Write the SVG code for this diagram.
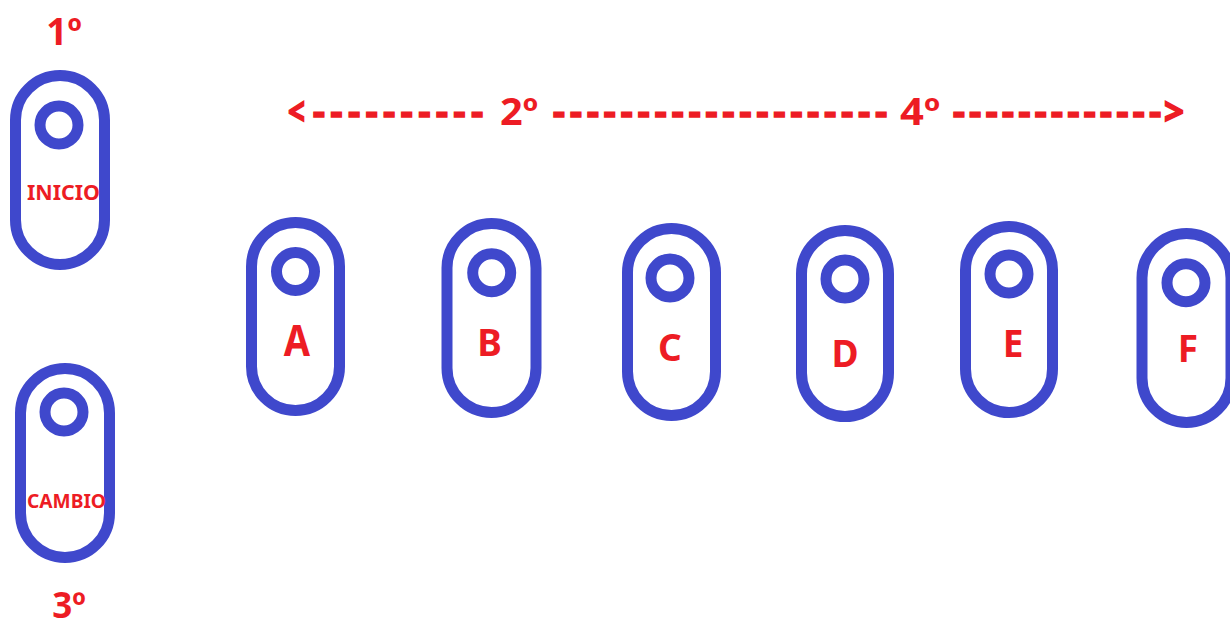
<svg xmlns="http://www.w3.org/2000/svg" width="1230" height="621" viewBox="0 0 1230 621">
<style>
.pill{fill:none;stroke:#3f48cc;stroke-width:11}
.hole{fill:none;stroke:#3f48cc;stroke-width:11}
.t{fill:#ed1c24;font-family:"Noto Sans","Open Sans","Liberation Sans",sans-serif;font-weight:bold;text-anchor:middle}
.h{fill:#ed1c24;font-family:"Noto Sans","Open Sans","Liberation Sans",sans-serif;font-weight:bold;font-size:37px}
.d{stroke:#ed1c24;stroke-width:1.6}
</style>
<rect width="1230" height="621" fill="#ffffff"/>
<g id="connectors">
<text class="h d" x="288" y="125" textLength="17" lengthAdjust="spacingAndGlyphs">&lt;</text>
<text class="h d" x="313" y="125" textLength="170" lengthAdjust="spacing">----------</text>
<text class="h" x="500" y="125" textLength="38" lengthAdjust="spacingAndGlyphs">2º</text>
<text class="h d" x="553" y="125" textLength="334" lengthAdjust="spacing">--------------------</text>
<text class="h" x="900" y="125" textLength="40" lengthAdjust="spacingAndGlyphs">4º</text>
<text class="h d" x="953" y="125" textLength="208" lengthAdjust="spacing">-------------</text>
<text class="h d" x="1164" y="125" textLength="20" lengthAdjust="spacingAndGlyphs">&gt;</text>
</g>
<g id="inicio">
<text class="t" x="64" y="45" font-size="37">1º</text>
<rect class="pill" x="15.5" y="75.5" width="89" height="189" rx="44.5"/>
<circle class="hole" cx="59" cy="125" r="19"/>
<text class="t" x="63.5" y="200" font-size="22" textLength="73" lengthAdjust="spacingAndGlyphs">INICIO</text>
</g>
<g id="cambio">
<rect class="pill" x="20.5" y="368.5" width="89" height="189" rx="44.5"/>
<circle class="hole" cx="64" cy="412" r="19"/>
<text class="t" x="66.5" y="508" font-size="20" textLength="79" lengthAdjust="spacingAndGlyphs">CAMBIO</text>
<text class="t" x="69" y="618" font-size="35">3º</text>
</g>
<g id="A">
<rect class="pill" x="251.5" y="222.5" width="88" height="188" rx="44"/>
<circle class="hole" cx="295.5" cy="271.5" r="19"/>
<text class="t" x="0" y="0" font-size="38" transform="translate(297,356) scale(1,1.12)">A</text>
</g>
<g id="B">
<rect class="pill" x="447" y="223.5" width="89" height="189" rx="44.5"/>
<circle class="hole" cx="491.7" cy="272.7" r="19"/>
<text class="t" x="489.5" y="356" font-size="37">B</text>
</g>
<g id="C">
<rect class="pill" x="627.5" y="228.5" width="88" height="187" rx="44"/>
<circle class="hole" cx="670" cy="278" r="19"/>
<text class="t" x="670" y="361" font-size="37">C</text>
</g>
<g id="D">
<rect class="pill" x="801.5" y="230.5" width="87" height="186" rx="43.5"/>
<circle class="hole" cx="845" cy="279" r="19"/>
<text class="t" x="845" y="367" font-size="37">D</text>
</g>
<g id="E">
<rect class="pill" x="965.5" y="226.5" width="87" height="186" rx="43.5"/>
<circle class="hole" cx="1009" cy="274" r="19"/>
<text class="t" x="1013" y="357" font-size="37">E</text>
</g>
<g id="F">
<rect class="pill" x="1142" y="233.5" width="89" height="189" rx="44.5"/>
<circle class="hole" cx="1186" cy="282.7" r="19"/>
<text class="t" x="1188" y="362" font-size="37">F</text>
</g>
</svg>
